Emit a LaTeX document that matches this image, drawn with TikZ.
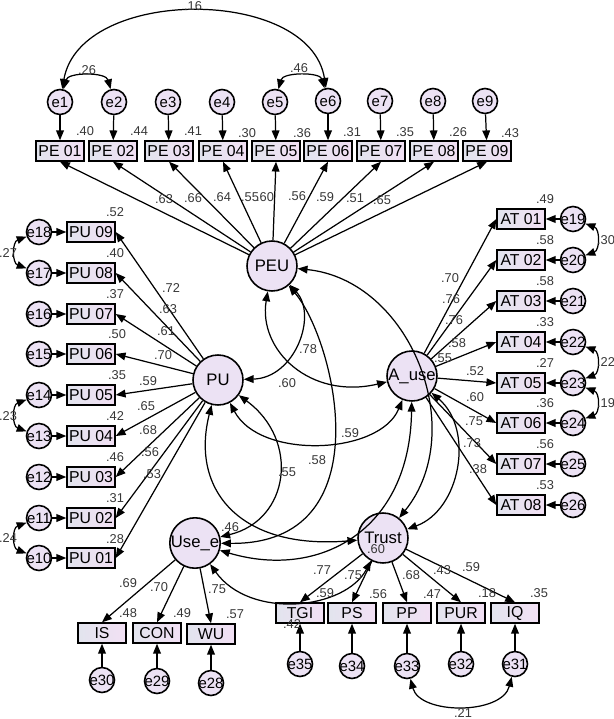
\documentclass[tikz,border=0pt]{standalone}
\usepackage{fontspec}
\setmainfont{Liberation Sans}
\usetikzlibrary{arrows.meta}
\definecolor{boxL}{RGB}{226,228,238}
\definecolor{boxR}{RGB}{242,224,244}
\definecolor{circF}{RGB}{236,226,244}
\definecolor{labc}{RGB}{55,55,55}

\begin{document}
\begin{tikzpicture}[>={Triangle[length=5.6pt,width=4.4pt]},x=0.02cm,y=-0.02cm,
 line width=0.7pt,
 obs/.style={draw,line width=1.1pt,left color=boxL,right color=boxR,minimum width=0.95cm,minimum height=0.39cm,inner sep=1pt,font=\fontsize{9}{10}\selectfont},
 lat/.style={draw,circle,line width=0.9pt,fill=circF,minimum size=1cm,inner sep=0pt,font=\fontsize{9.5}{10}\selectfont},
 err/.style={draw,circle,line width=0.9pt,fill=circF,minimum size=0.5cm,inner sep=-3pt,font=\fontsize{8.5}{9}\selectfont},
 lab/.style={font=\fontsize{7.3}{8}\selectfont,text=labc,inner sep=0.5pt},
 cov/.style={<->,line width=0.7pt}]
\useasboundingbox (0,0) rectangle (614,719);
% latent variables
\node[lat] (peu) at (272,266) {PEU};
\node[lat] (pu) at (218,380) {PU};
\node[lat] (ause) at (412,376) {A\_use};
\node[lat] (usee) at (195,543) {Use\_e};
\node[lat] (trust) at (383,538) {Trust};
% PE items
\node[obs] (pe1) at (60,151) {PE 01};
\node[obs] (pe2) at (113,151) {PE 02};
\node[obs] (pe3) at (169,151) {PE 03};
\node[obs] (pe4) at (223,151) {PE 04};
\node[obs] (pe5) at (276,151) {PE 05};
\node[obs] (pe6) at (328,151) {PE 06};
\node[obs] (pe7) at (381,151) {PE 07};
\node[obs] (pe8) at (434,151) {PE 08};
\node[obs] (pe9) at (487,151) {PE 09};
\node[err] (e1) at (60,102) {e1};
\node[err] (e2) at (114,102) {e2};
\node[err] (e3) at (168,102) {e3};
\node[err] (e4) at (222,102) {e4};
\node[err] (e5) at (275,102) {e5};
\node[err] (e6) at (328,101) {e6};
\node[err] (e7) at (380,101) {e7};
\node[err] (e8) at (433,101) {e8};
\node[err] (e9) at (485,101) {e9};
% PU items
\node[obs] (pu9) at (91,232) {PU 09};
\node[obs] (pu8) at (91,273) {PU 08};
\node[obs] (pu7) at (91,314) {PU 07};
\node[obs] (pu6) at (91,354) {PU 06};
\node[obs] (pu5) at (91,395) {PU 05};
\node[obs] (pu4) at (91,436) {PU 04};
\node[obs] (pu3) at (91,477) {PU 03};
\node[obs] (pu2) at (91,518) {PU 02};
\node[obs] (pu1) at (91,558) {PU 01};
\node[err] (e18) at (39,232) {e18};
\node[err] (e17) at (39,273) {e17};
\node[err] (e16) at (39,314) {e16};
\node[err] (e15) at (39,354) {e15};
\node[err] (e14) at (39,395) {e14};
\node[err] (e13) at (39,436) {e13};
\node[err] (e12) at (39,477) {e12};
\node[err] (e11) at (39,518) {e11};
\node[err] (e10) at (39,558) {e10};
% AT items
\node[obs] (at1) at (521,219) {AT 01};
\node[obs] (at2) at (521,260) {AT 02};
\node[obs] (at3) at (521,301) {AT 03};
\node[obs] (at4) at (521,342) {AT 04};
\node[obs] (at5) at (521,383) {AT 05};
\node[obs] (at6) at (521,423) {AT 06};
\node[obs] (at7) at (521,464) {AT 07};
\node[obs] (at8) at (521,505) {AT 08};
\node[err] (e19) at (573,219) {e19};
\node[err] (e20) at (573,260) {e20};
\node[err] (e21) at (573,301) {e21};
\node[err] (e22) at (573,342) {e22};
\node[err] (e23) at (573,383) {e23};
\node[err] (e24) at (573,423) {e24};
\node[err] (e25) at (573,464) {e25};
\node[err] (e26) at (573,505) {e26};
% Use_e items
\node[obs] (is) at (102,633) {IS};
\node[obs] (con) at (157,633) {CON};
\node[obs] (wu) at (211,634) {WU};
\node[err] (e30) at (102,680) {e30};
\node[err] (e29) at (157,681) {e29};
\node[err] (e28) at (211,683) {e28};
% Trust items
\node[obs] (tgi) at (300,613) {TGI};
\node[obs] (ps) at (352,613) {PS};
\node[obs] (pp) at (407,613) {PP};
\node[obs] (pur) at (461,613) {PUR};
\node[obs] (iq) at (515,613) {IQ};
\node[err] (e35) at (300,664) {e35};
\node[err] (e34) at (352,666) {e34};
\node[err] (e33) at (407,666) {e33};
\node[err] (e32) at (461,664) {e32};
\node[err] (e31) at (515,664) {e31};
% loadings
\draw[->] (peu) -- (pe1.south);
\draw[->] (peu) -- (pe2.south);
\draw[->] (peu) -- (pe3.south);
\draw[->] (peu) -- (pe4.south);
\draw[->] (peu) -- (pe5.south);
\draw[->] (peu) -- (pe6.south);
\draw[->] (peu) -- (pe7.south);
\draw[->] (peu) -- (pe8.south);
\draw[->] (peu) -- (pe9.south);
\draw[->] (pu) -- (pu9.east);
\draw[->] (pu) -- (pu8.east);
\draw[->] (pu) -- (pu7.east);
\draw[->] (pu) -- (pu6.east);
\draw[->] (pu) -- (pu5.east);
\draw[->] (pu) -- (pu4.east);
\draw[->] (pu) -- (pu3.east);
\draw[->] (pu) -- (pu2.east);
\draw[->] (pu) -- (pu1.east);
\draw[->] (ause) -- (at1.west);
\draw[->] (ause) -- (at2.west);
\draw[->] (ause) -- (at3.west);
\draw[->] (ause) -- (at4.west);
\draw[->] (ause) -- (at5.west);
\draw[->] (ause) -- (at6.west);
\draw[->] (ause) -- (at7.west);
\draw[->] (ause) -- (at8.west);
\draw[->] (usee) -- (is.north);
\draw[->] (usee) -- (con.north);
\draw[->] (usee) -- (wu.north);
\draw[->] (trust) -- (tgi.north);
\draw[->] (trust) -- (ps.north);
\draw[->] (trust) -- (pp.north);
\draw[->] (trust) -- (pur.north);
\draw[->] (trust) -- (iq.north);
% errors
\draw[->] (e1) -- (pe1);
\draw[->] (e2) -- (pe2);
\draw[->] (e3) -- (pe3);
\draw[->] (e4) -- (pe4);
\draw[->] (e5) -- (pe5);
\draw[->] (e6) -- (pe6);
\draw[->] (e7) -- (pe7);
\draw[->] (e8) -- (pe8);
\draw[->] (e9) -- (pe9);
\draw[->] (e18) -- (pu9);
\draw[->] (e17) -- (pu8);
\draw[->] (e16) -- (pu7);
\draw[->] (e15) -- (pu6);
\draw[->] (e14) -- (pu5);
\draw[->] (e13) -- (pu4);
\draw[->] (e12) -- (pu3);
\draw[->] (e11) -- (pu2);
\draw[->] (e10) -- (pu1);
\draw[->] (e19) -- (at1);
\draw[->] (e20) -- (at2);
\draw[->] (e21) -- (at3);
\draw[->] (e22) -- (at4);
\draw[->] (e23) -- (at5);
\draw[->] (e24) -- (at6);
\draw[->] (e25) -- (at7);
\draw[->] (e26) -- (at8);
\draw[->] (e30) -- (is);
\draw[->] (e29) -- (con);
\draw[->] (e28) -- (wu);
\draw[->] (e35) -- (tgi);
\draw[->] (e34) -- (ps);
\draw[->] (e33) -- (pp);
\draw[->] (e32) -- (pur);
\draw[->] (e31) -- (iq);
% error covariances
\draw[cov] (e1) .. controls (68,72) and (106,72) .. (e2);
\draw[cov] (e5) .. controls (283,72) and (320,72) .. (e6);
\draw[cov] (e1) .. controls (80,-14) and (310,-14) .. (e6);
\draw[cov] (e18) .. controls (12,242) and (12,263) .. (e17);
\draw[cov] (e14) .. controls (12,405) and (12,426) .. (e13);
\draw[cov] (e11) .. controls (12,528) and (12,548) .. (e10);
\draw[cov] (e19) .. controls (600,229) and (600,250) .. (e20);
\draw[cov] (e22) .. controls (600,352) and (600,373) .. (e23);
\draw[cov] (e23) .. controls (600,393) and (600,413) .. (e24);
\draw[cov] (e33) .. controls (420,715) and (502,715) .. (e31);
% factor covariances
\draw[cov] (peu) .. controls (318,315) and (295,378) .. (pu);
\draw[cov] (peu) .. controls (258,350) and (310,400) .. (ause);
\draw[cov] (peu) .. controls (335,340) and (385,545) .. (usee);
\draw[cov] (peu) .. controls (410,280) and (470,430) .. (trust);
\draw[cov] (pu) .. controls (260,460) and (380,455) .. (ause);
\draw[cov] (pu) .. controls (300,440) and (290,520) .. (usee);
\draw[cov] (pu) .. controls (190,490) and (240,550) .. (trust);
\draw[cov] (usee) .. controls (320,580) and (410,530) .. (ause);
\draw[cov] (usee) .. controls (250,620) and (345,610) .. (trust);
\draw[cov] (ause) .. controls (475,430) and (460,510) .. (trust);
% estimates
\node[lab] (c1) at (193,6) {.16};
\node[lab] (c2) at (87,70) {.26};
\node[lab] (c3) at (299,68) {.46};
\node[lab] (c4) at (8,253) {.27};
\node[lab] (c5) at (8,416) {.23};
\node[lab] (c6) at (8,538) {.24};
\node[lab] (c7) at (606,240) {.30};
\node[lab] (c8) at (606,362) {.22};
\node[lab] (c9) at (606,403) {.19};
\node[lab] (c10) at (463,713) {.21};
\node[lab] (c11) at (308,349) {.78};
\node[lab] (c12) at (287,383) {.60};
\node[lab] (c13) at (317,460) {.58};
\node[lab] (c14) at (350,433) {.59};
\node[lab] (c15) at (287,472) {.55};
\node[lab] (c16) at (230,527) {.46};
\node[lab] (c17) at (376,549) {.60};
\node[lab] (c18) at (292,624) {.42};
\node[lab] (rpe1) at (85,131) {.40};
\node[lab] (rpe2) at (139,131) {.44};
\node[lab] (rpe3) at (193,131) {.41};
\node[lab] (rpe4) at (247,133) {.30};
\node[lab] (rpe5) at (302,133) {.36};
\node[lab] (rpe6) at (352,132) {.31};
\node[lab] (rpe7) at (405,132) {.35};
\node[lab] (rpe8) at (458,132) {.26};
\node[lab] (rpe9) at (510,133) {.43};
\node[lab] (lpe1) at (164,199) {.63};
\node[lab] (lpe2) at (193,198) {.66};
\node[lab] (lpe3) at (222,197) {.64};
\node[lab] (lpe4) at (250,197) {.55};
\node[lab] (lpe5) at (265,197) {.60};
\node[lab] (lpe6) at (297,196) {.56};
\node[lab] (lpe7) at (325,197) {.59};
\node[lab] (lpe8) at (355,198) {.51};
\node[lab] (lpe9) at (382,200) {.65};
\node[lab] (rpu9) at (115,212) {.52};
\node[lab] (rpu8) at (115,253) {.40};
\node[lab] (rpu7) at (115,294) {.37};
\node[lab] (rpu6) at (117,334) {.50};
\node[lab] (rpu5) at (117,375) {.35};
\node[lab] (rpu4) at (115,416) {.42};
\node[lab] (rpu3) at (115,457) {.46};
\node[lab] (rpu2) at (115,498) {.31};
\node[lab] (rpu1) at (115,539) {.28};
\node[lab] (lpu9) at (171,288) {.72};
\node[lab] (lpu8) at (168,309) {.63};
\node[lab] (lpu7) at (166,331) {.61};
\node[lab] (lpu6) at (163,355) {.70};
\node[lab] (lpu5) at (148,381) {.59};
\node[lab] (lpu4) at (146,406) {.65};
\node[lab] (lpu3) at (148,430) {.68};
\node[lab] (lpu2) at (150,452) {.56};
\node[lab] (lpu1) at (152,474) {.53};
\node[lab] (rat1) at (545,199) {.49};
\node[lab] (rat2) at (545,240) {.58};
\node[lab] (rat3) at (545,281) {.58};
\node[lab] (rat4) at (545,322) {.33};
\node[lab] (rat5) at (545,363) {.27};
\node[lab] (rat6) at (545,403) {.36};
\node[lab] (rat7) at (545,444) {.56};
\node[lab] (rat8) at (545,485) {.53};
\node[lab] (lat1) at (450,278) {.70};
\node[lab] (lat2) at (451,299) {.76};
\node[lab] (lat3) at (454,320) {.76};
\node[lab] (lat4) at (457,343) {.58};
\node[lab] (lat5) at (443,358) {.55};
\node[lab] (lat6) at (475,371) {.52};
\node[lab] (lat7) at (475,397) {.60};
\node[lab] (lat8) at (474,421) {.75};
\node[lab] (lat9) at (472,443) {.73};
\node[lab] (lat10) at (478,469) {.38};
\node[lab] (lis) at (128,583) {.69};
\node[lab] (lcon) at (159,587) {.70};
\node[lab] (lwu) at (217,589) {.75};
\node[lab] (ris) at (128,613) {.48};
\node[lab] (rcon) at (182,613) {.49};
\node[lab] (rwu) at (235,614) {.57};
\node[lab] (ltgi) at (322,570) {.77};
\node[lab] (lps) at (353,575) {.75};
\node[lab] (lpp) at (411,575) {.68};
\node[lab] (lpur) at (442,570) {.43};
\node[lab] (liq) at (471,567) {.59};
\node[lab] (rtgi) at (325,593) {.59};
\node[lab] (rps) at (378,594) {.56};
\node[lab] (rpp) at (432,594) {.47};
\node[lab] (rpur) at (487,593) {.18};
\node[lab] (riq) at (539,593) {.35};
\end{tikzpicture}
\end{document}
